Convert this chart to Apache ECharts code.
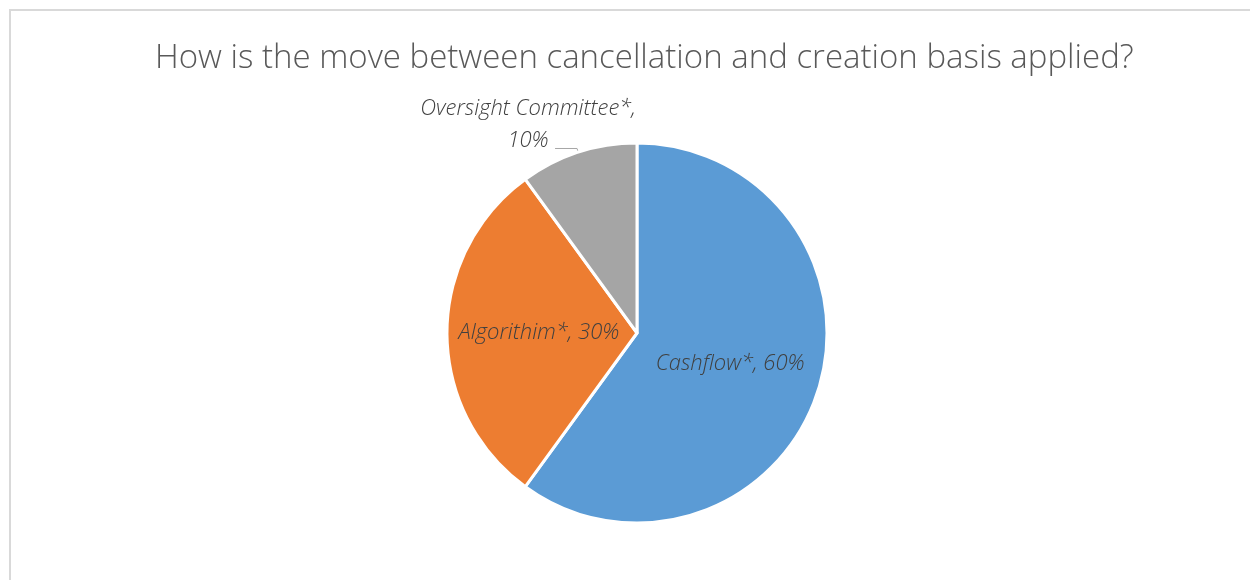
<!DOCTYPE html>
<html>
<head>
<meta charset="utf-8">
<script src="https://cdn.jsdelivr.net/npm/echarts@6/dist/echarts.min.js"></script>
<style>
  html, body { margin: 0; padding: 0; background: #fff; }
  #chart { width: 1250px; height: 580px; }
</style>
</head>
<body>
<div id="chart"></div>
<script>
// Share of respondents by basis used
const categories = ['Cashflow*', 'Algorithim*', 'Oversight Committee*'];
const values = [60, 30, 10];
const colors = ['#5b9bd5', '#ed7d31', '#a5a5a5'];
const titleText = 'How is the move between cancellation and creation basis applied?';

const labelFont = {
  fontFamily: 'Open Sans',
  fontStyle: 'italic',
  fontWeight: 300,
  fontSize: 22,
  color: '#404040'
};

const data = categories.map((name, i) => {
  const item = { name: name, value: values[i], itemStyle: { color: colors[i] } };
  if (i === 2) {
    // smallest slice: label sits outside with a short leader line
    item.label = {
      show: true,
      position: 'outside',
      formatter: p => p.name + ',\n' + p.value + '%',
      lineHeight: 32,
      ...labelFont
    };
    item.labelLine = { show: true, length: 4, length2: 22, lineStyle: { color: '#a6a6a6', width: 1 } };
  }
  return item;
});

const chart = echarts.init(document.getElementById('chart'), null, { renderer: 'canvas' });
chart.setOption({
  backgroundColor: '#ffffff',
  animation: false,
  title: {
    text: titleText,
    left: 150,
    top: 37,
    textStyle: { fontFamily: 'Open Sans', fontWeight: 300, fontSize: 33, color: '#595959' }
  },
  graphic: [{
    type: 'rect',
    shape: { x: 10, y: 10, width: 1400, height: 800 },
    style: { fill: 'none', stroke: '#d9d9d9', lineWidth: 2 },
    silent: true
  }],
  series: [{
    type: 'pie',
    center: [637, 333],
    radius: [0, 190],
    startAngle: 90,
    clockwise: true,
    avoidLabelOverlap: false,
    itemStyle: { borderColor: '#ffffff', borderWidth: 3 },
    label: {
      show: true,
      position: 'inner',
      formatter: p => p.name + ', ' + p.value + '%',
      ...labelFont
    },
    labelLine: { show: false },
    labelLayout: function (params) {
      if (params.dataIndex !== 2 || !params.labelLinePoints) return {};
      const pts = params.labelLinePoints;
      const end = pts[pts.length - 1];
      return {
        x: end[0] - 27,
        y: end[1] - 24,
        align: 'center',
        verticalAlign: 'middle',
        labelLinePoints: pts
      };
    },
    data: data
  }]
});
</script>
</body>
</html>
